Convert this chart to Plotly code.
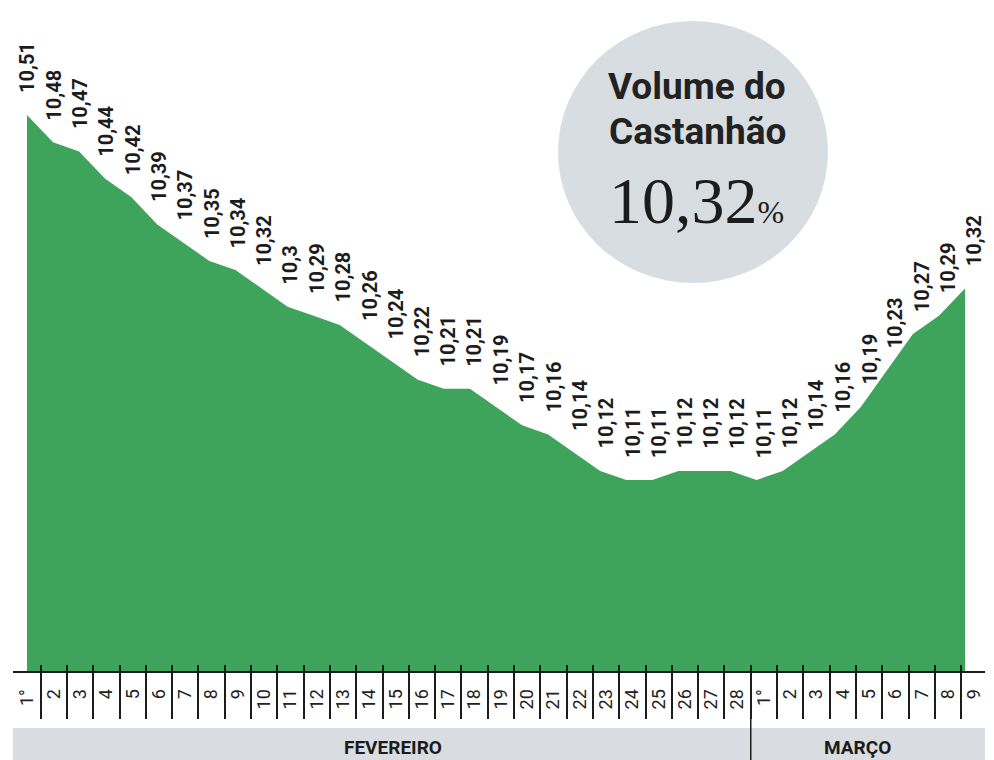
import plotly.graph_objects as go

# ---------------- data ----------------
feb_labels = ["1°", "2", "3", "4", "5", "6", "7", "8", "9", "10", "11", "12", "13", "14",
              "15", "16", "17", "18", "19", "20", "21", "22", "23", "24", "25", "26", "27", "28"]
mar_labels = ["1°", "2", "3", "4", "5", "6", "7", "8", "9"]
feb_values = [10.51, 10.48, 10.47, 10.44, 10.42, 10.39, 10.37, 10.35, 10.34, 10.32,
              10.30, 10.29, 10.28, 10.26, 10.24, 10.22, 10.21, 10.21, 10.19, 10.17,
              10.16, 10.14, 10.12, 10.11, 10.11, 10.12, 10.12, 10.12]
mar_values = [10.11, 10.12, 10.14, 10.16, 10.19, 10.23, 10.27, 10.29, 10.32]
month_names = ["FEVEREIRO", "MARÇO"]
title_lines = ["Volume do", "Castanhão"]
current_volume = 10.32

day_labels = feb_labels + mar_labels
values = feb_values + mar_values
idx = list(range(len(values)))
seps = [i + 0.5 for i in idx[:-1]]

GREEN = "#3fa45b"
GREY = "#d9dde2"
INK = "#1c1c1c"

# page body has an 8px margin: figure coordinates = screen coordinates - 8
OFF = 8
W, H = 994, 760
PL, PT = 13, 20          # plot area top-left on screen
PW, PH = 972, 651        # plot area size
L, T = PL - OFF, PT - OFF
R, B = W - L - PW, H - T - PH


def px_x(x):
    return (x - PL) / PW


def px_y(y):
    return (PT + PH - y) / PH


def fmt(v):
    s = f"{v:.2f}".rstrip("0").rstrip(".")
    return s.replace(".", ",")


fig = go.Figure()

fig.add_trace(go.Scatter(
    x=idx, y=values, mode="lines", fill="tozeroy",
    line=dict(width=0, color=GREEN), fillcolor=GREEN,
    hoverinfo="skip", showlegend=False, xaxis="x", yaxis="y"))

fig.add_trace(go.Scatter(
    x=idx, y=values, mode="markers", marker=dict(opacity=0),
    hoverinfo="skip", showlegend=False, xaxis="x2", yaxis="y"))

fig.add_trace(go.Scatter(
    x=idx, y=values, mode="markers", marker=dict(opacity=0),
    hoverinfo="skip", showlegend=False, xaxis="x3", yaxis="y"))

annotations = []
for i, v in zip(idx, values):
    annotations.append(dict(
        xref="x2", yref="y", x=i, y=v, text=fmt(v), textangle=-90,
        showarrow=False, xanchor="center", yanchor="bottom", yshift=20,
        font=dict(family="Roboto", size=20, color=INK, weight="bold")))

# month band labels
annotations.append(dict(xref="paper", yref="paper", x=px_x(393), y=px_y(748),
                        text=f"<b>{month_names[0]}</b>", showarrow=False,
                        xanchor="center", yanchor="middle",
                        font=dict(family="Roboto", size=19, color=INK)))
annotations.append(dict(xref="paper", yref="paper", x=px_x(857), y=px_y(748),
                        text=f"<b>{month_names[1]}</b>", showarrow=False,
                        xanchor="center", yanchor="middle",
                        font=dict(family="Roboto", size=19, color=INK)))

# circle texts
annotations.append(dict(xref="paper", yref="paper", x=px_x(697), y=px_y(86),
                        text=f"<b>{title_lines[0]}</b>", showarrow=False,
                        xanchor="center", yanchor="middle",
                        font=dict(family="Roboto", size=37, color="#222222")))
annotations.append(dict(xref="paper", yref="paper", x=px_x(697), y=px_y(132),
                        text=f"<b>{title_lines[1]}</b>", showarrow=False,
                        xanchor="center", yanchor="middle",
                        font=dict(family="Roboto", size=37, color="#222222")))
annotations.append(dict(xref="paper", yref="paper", x=px_x(696), y=px_y(200),
                        text=f"{fmt(current_volume)}<span style='font-size:32px'>%</span>",
                        showarrow=False, xanchor="center", yanchor="middle",
                        font=dict(family="Liberation Serif", size=66, color=INK)))

shapes = [
    dict(type="circle", xref="paper", yref="paper",
         x0=px_x(558), x1=px_x(828), y0=px_y(283), y1=px_y(21),
         fillcolor="#d8dde2", line=dict(width=0), layer="below"),
    dict(type="rect", xref="paper", yref="paper",
         x0=0, x1=1, y0=px_y(760), y1=px_y(728),
         fillcolor=GREY, line=dict(width=0), layer="below"),
    dict(type="line", xref="x2", yref="paper",
         x0=len(feb_values) - 0.5, x1=len(feb_values) - 0.5,
         y0=px_y(760), y1=px_y(665),
         line=dict(color=INK, width=1.5), layer="above"),
]

x2_range = [(PL - 27.5) / 26.3, (PL + PW - 27.5) / 26.3]

fig.update_layout(
    width=W, height=H,
    margin=dict(l=L, r=R, t=T, b=B),
    paper_bgcolor="white", plot_bgcolor="rgba(0,0,0,0)",
    showlegend=False,
    xaxis=dict(range=[-14 / 26.056, 36 + 20 / 26.056], visible=False,
               fixedrange=True),
    xaxis2=dict(range=x2_range, overlaying="x", anchor="y", side="bottom",
                showline=True, linecolor=INK, linewidth=2,
                showgrid=False, zeroline=False,
                tickmode="array", tickvals=idx, ticktext=day_labels,
                ticks="", tickangle=-90, ticklabelstandoff=9,
                tickfont=dict(family="Roboto", size=18, color="#222222"),
                minor=dict(tickmode="array", tickvals=seps, ticks="outside",
                           ticklen=46, tickwidth=1.5, tickcolor=INK,
                           showgrid=False)),
    xaxis3=dict(range=x2_range, overlaying="x", anchor="y", side="bottom",
                showline=False, showgrid=False, zeroline=False,
                tickmode="array", tickvals=seps, ticks="inside", ticklen=6,
                tickwidth=1.5, tickcolor=INK, showticklabels=False),
    yaxis=dict(range=[9.9007, 10.6141], visible=False, fixedrange=True),
    annotations=annotations,
    shapes=shapes,
)

fig.write_html("out.html")
